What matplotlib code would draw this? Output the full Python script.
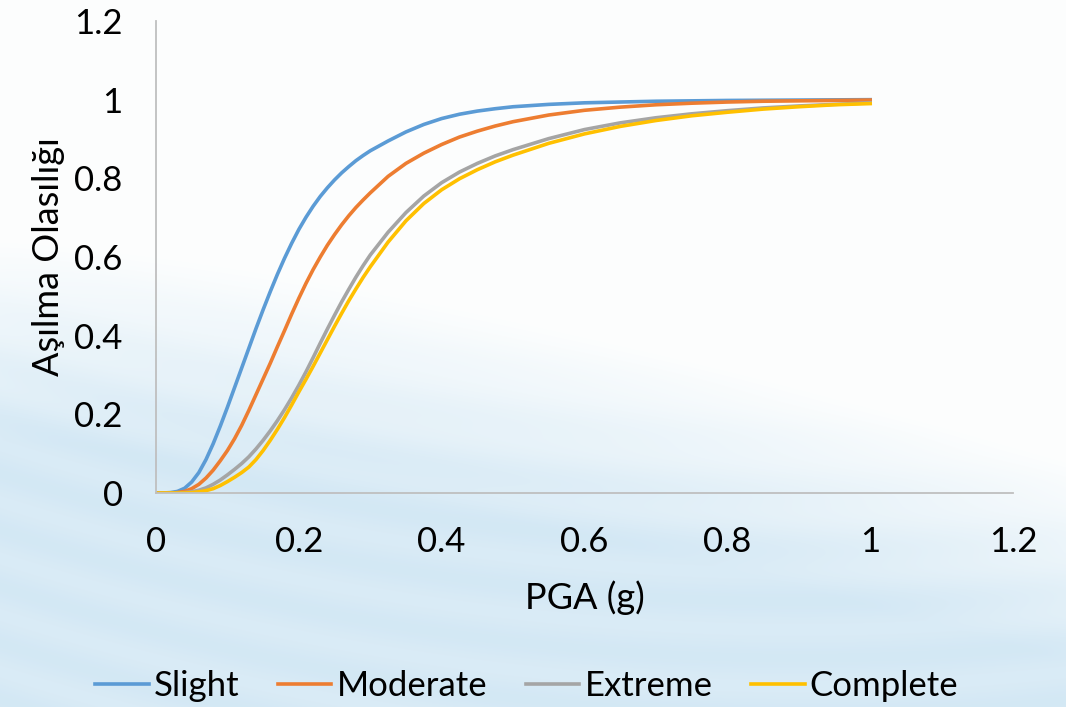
import numpy as np
import matplotlib
matplotlib.use("Agg")
import matplotlib.pyplot as plt

# PGA values (g)
pga = [0.00, 0.01, 0.02, 0.03, 0.04, 0.05, 0.06, 0.07, 0.08, 0.09,
       0.10, 0.11, 0.12, 0.13, 0.14, 0.15, 0.16, 0.17, 0.18, 0.19,
       0.20, 0.21, 0.22, 0.23, 0.24, 0.25, 0.26, 0.27, 0.28, 0.29,
       0.30, 0.325, 0.35, 0.375, 0.40, 0.425, 0.45, 0.475, 0.50,
       0.55, 0.60, 0.65, 0.70, 0.75, 0.80, 0.85, 0.90, 0.95, 1.00]

# exceedance probabilities for each damage state
slight = [0, 0, 0.001, 0.004, 0.012, 0.028, 0.052, 0.085, 0.125, 0.17,
          0.218, 0.268, 0.318, 0.368, 0.418, 0.466, 0.512, 0.556, 0.597, 0.635,
          0.67, 0.701, 0.729, 0.754, 0.776, 0.796, 0.814, 0.83, 0.845, 0.858,
          0.87, 0.895, 0.918, 0.937, 0.952, 0.963, 0.971, 0.977, 0.982,
          0.988, 0.992, 0.994, 0.996, 0.997, 0.998, 0.9985, 0.999, 0.9995, 1.0]
moderate = [0, 0, 0, 0.001, 0.004, 0.011, 0.022, 0.038, 0.058, 0.082,
            0.108, 0.138, 0.172, 0.21, 0.25, 0.29, 0.33, 0.372, 0.413, 0.455,
            0.495, 0.533, 0.568, 0.60, 0.63, 0.657, 0.682, 0.705, 0.726, 0.745,
            0.763, 0.805, 0.838, 0.864, 0.886, 0.905, 0.92, 0.933, 0.944,
            0.961, 0.973, 0.981, 0.987, 0.991, 0.994, 0.996, 0.997, 0.998, 0.999]
extreme = [0, 0, 0, 0, 0.001, 0.003, 0.007, 0.013, 0.022, 0.033,
           0.046, 0.06, 0.075, 0.092, 0.112, 0.134, 0.158, 0.184, 0.212, 0.242,
           0.274, 0.308, 0.344, 0.381, 0.417, 0.452, 0.486, 0.518, 0.549, 0.578,
           0.605, 0.663, 0.713, 0.755, 0.789, 0.816, 0.838, 0.857, 0.873,
           0.901, 0.924, 0.941, 0.954, 0.964, 0.972, 0.979, 0.984, 0.988, 0.992]
complete = [0, 0, 0, 0, 0, 0.001, 0.003, 0.006, 0.011, 0.019,
            0.029, 0.04, 0.052, 0.066, 0.085, 0.108, 0.134, 0.162, 0.192, 0.224,
            0.257, 0.289, 0.322, 0.356, 0.39, 0.424, 0.457, 0.489, 0.519, 0.548,
            0.575, 0.638, 0.692, 0.736, 0.771, 0.799, 0.822, 0.842, 0.859,
            0.889, 0.913, 0.932, 0.947, 0.959, 0.968, 0.976, 0.982, 0.987, 0.99]

labels = ["Slight", "Moderate", "Extreme", "Complete"]
colors = ["#5B9BD5", "#ED7D31", "#A5A5A5", "#FFC000"]
xticks = [0, 0.2, 0.4, 0.6, 0.8, 1, 1.2]
yticks = [0, 0.2, 0.4, 0.6, 0.8, 1, 1.2]

plt.rcParams['font.family'] = ['Lato', 'DejaVu Sans']
FS = 25

W, H = 1066, 707
fig = plt.figure(figsize=(W / 100, H / 100), dpi=100)

# light blue wavy background (decoration only)
bg = fig.add_axes([0, 0, 1, 1], zorder=-10)
px, py = np.meshgrid(np.arange(W), np.arange(H))
edge = 240 + 220 * (px / W) ** 1.4
t = np.clip((py - edge) / 200, 0, 1)
streaks = 0.5 + 0.5 * np.sin((py - 0.12 * px + 0.0002 * (px - 500) ** 2) / 9.0)
t = t * (0.85 + 0.15 * streaks)
white = np.array([0.99, 0.995, 0.995])
blue = np.array([0.83, 0.91, 0.96])
img = white[None, None, :] * (1 - t[..., None]) + blue[None, None, :] * t[..., None]
bg.imshow(img, aspect='auto', extent=[0, 1, 0, 1])
bg.axis('off')

ax = fig.add_axes([156 / W, 1 - 493 / H, 857 / W, 472 / H])
ax.patch.set_alpha(0)

for ys, lab, c in zip([slight, moderate, extreme, complete], labels, colors):
    ax.plot(pga, ys, color=c, lw=2.6, label=lab)

ax.set_xlim(0, 1.2)
ax.set_ylim(0, 1.2)
ax.set_xticks(xticks)
ax.set_yticks(yticks)
ax.set_xticklabels([f"{v:g}" for v in xticks])
ax.set_yticklabels([f"{v:g}" for v in yticks])
ax.tick_params(length=0, labelsize=FS, pad=24, colors='black')

for s in ['top', 'right']:
    ax.spines[s].set_visible(False)
for s in ['left', 'bottom']:
    ax.spines[s].set_color('#BFBFBF')
    ax.spines[s].set_linewidth(1.3)

ax.set_xlabel("PGA (g)", fontsize=FS + 1)
ax.xaxis.set_label_coords(0.5, -0.186)
ax.set_ylabel("Aşılma Olasılığı", fontsize=FS + 1)
ax.yaxis.set_label_coords(-0.106, 0.5)

fig.legend(loc='center', bbox_to_anchor=(0.494, 0.03), ncol=4, frameon=False,
           fontsize=FS, handlelength=1.55, handletextpad=0.15, columnspacing=1.1)

fig.savefig("out.png", dpi=100)
